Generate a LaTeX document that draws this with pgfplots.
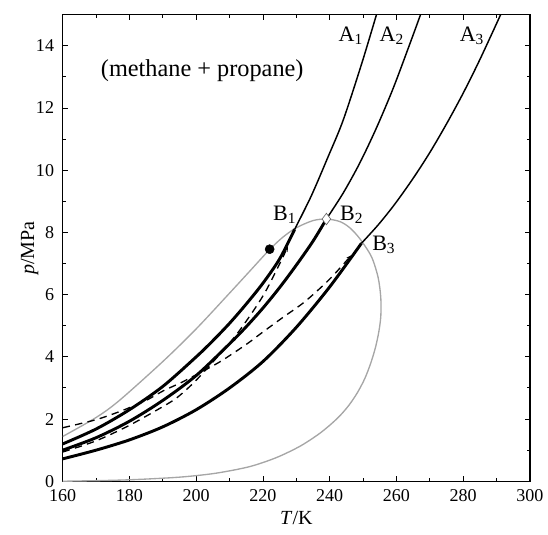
\documentclass[border=0pt]{standalone}
\usepackage{pgfplots}
\pgfplotsset{compat=1.18}
\usepackage{fontspec}
\setmainfont{Liberation Serif}
\usetikzlibrary{arrows.meta}
\begin{document}
\begin{tikzpicture}
\begin{axis}[
  width=350pt, height=349.5pt, scale only axis,
  xmin=160, xmax=300, ymin=0, ymax=15,
  xtick={160,180,...,300}, ytick={0,2,...,14},
  minor x tick num=1, minor y tick num=1,
  tick align=inside, tick pos=both,
  major tick length=4pt, minor tick length=2.5pt,
  axis line style={line width=0.9pt},
  every tick/.style={line width=0.7pt, black},
  tick label style={font=\fontsize{13.5}{15}\selectfont},
  xticklabel style={yshift=-3pt},
  yticklabel style={xshift=-3pt},
  /pgf/number format/assume math mode=true,
  xlabel={\textit{T}/K}, ylabel={\textit{p}/MPa},
  label style={font=\fontsize{15}{16}\selectfont},
  xlabel style={at={(axis description cs:0.5,-0.0794)}, anchor=center},
  ylabel style={at={(axis description cs:-0.0707,0.5)}, anchor=center},
  clip=true,
]
% gray envelope
\addplot[gray!70, line width=1pt, smooth] coordinates {
(160,1.44) (170,2.05) (177,2.6) (190,3.85) (200,4.9) (210,6.05) (216,6.75) (222,7.45)
(226,7.85) (230,8.15) (235,8.38) (239,8.43) (243,8.35) (246,8.15) (249,7.8) (252.5,7.22)
(254.5,6.55) (255.3,5.9) (255.3,5.3) (254.7,4.8) (253.7,4.3) (252.3,3.8) (250.5,3.3)
(248.3,2.85) (245.8,2.45) (243,2.1) (240,1.8) (236.5,1.5) (231,1.12) (224,0.76)
(216,0.47) (206,0.26) (196,0.14) (185,0.07) (175,0.03) (160,0.0)};
% thick lines
\addplot[black, line width=2.2pt, smooth] coordinates {
(160,1.2) (170,1.68) (180,2.3) (190,3.05) (200,4.0) (205,4.52) (210,5.08) (215,5.7) (220,6.37) (225,7.15) (229.5,8.1)};
\addplot[black, line width=2.2pt, smooth] coordinates {
(160,1.0) (170,1.4) (180,1.93) (190,2.6) (200,3.4) (210,4.42) (215,4.97) (220,5.57) (225,6.23) (230,6.95) (235,7.72) (239,8.43)};
\addplot[black, line width=2.2pt, smooth] coordinates {
(160,0.72) (170,1.0) (180,1.33) (190,1.75) (200,2.3) (210,3.0) (220,3.85) (230,4.95) (240,6.25) (249.5,7.65)};
% thin lines
\addplot[black, line width=1.1pt, smooth] coordinates {
(229.5,8.1) (234.5,9.18) (239.5,10.43) (244,11.6) (249.5,13.4) (254,15.0) (254.5,15.2)};
\addplot[black, line width=1.1pt, smooth] coordinates {
(239,8.43) (244,9.26) (249,10.23) (254,11.36) (259,12.63) (264,14.06) (267.2,15.0) (267.5,15.1)};
\addplot[black, line width=1.1pt, smooth] coordinates {
(249.5,7.65) (254.5,8.24) (259.5,8.91) (265,9.74) (270,10.57) (275,11.49) (280,12.48) (285,13.56) (291.2,15.0) (291.5,15.1)};
% dashed lines
\addplot[black, line width=1pt, dash pattern=on 5.5pt off 4pt, smooth, -{Stealth[length=4pt,width=3pt]}] coordinates {
(160,1.72) (170,1.98) (178,2.28) (185,2.6) (190,2.9) (196,3.2) (203.6,3.63) (208,3.9) (215,4.4)
(220,4.8) (226,5.27) (232.5,5.77) (240,6.5) (246.5,7.27)};
\addplot[black, line width=1pt, dash pattern=on 5.5pt off 4pt, smooth, -{Stealth[length=4pt,width=3pt]}] coordinates {
(160,0.94) (170,1.3) (180,1.8) (190,2.4) (194.5,2.71) (200,3.25) (207.6,4.15) (213,4.85) (220.5,6.05) (227.5,7.55)};
% markers
\addplot[only marks, mark=*, mark size=3.4pt, black] coordinates {(222,7.46)};
\addplot[only marks, mark=diamond*, mark size=4.3pt, draw=black!60, fill=white, line width=0.5pt] coordinates {(239,8.43)};
% labels
\node[font=\fontsize{18.2}{19}\selectfont] at (axis cs:201.8,13.2) {(methane + propane)};
\node[font=\fontsize{16.5}{18}\selectfont] at (axis cs:246.3,14.32) {A$_{\mathrm{1}}$};
\node[font=\fontsize{16.5}{18}\selectfont] at (axis cs:258.6,14.32) {A$_{\mathrm{2}}$};
\node[font=\fontsize{16.5}{18}\selectfont] at (axis cs:282.6,14.32) {A$_{\mathrm{3}}$};
\node[font=\fontsize{16.5}{18}\selectfont] at (axis cs:226.5,8.56) {B$_{\mathrm{1}}$};
\node[font=\fontsize{16.5}{18}\selectfont] at (axis cs:246.6,8.56) {B$_{\mathrm{2}}$};
\node[font=\fontsize{16.5}{18}\selectfont] at (axis cs:256.2,7.6) {B$_{\mathrm{3}}$};
\end{axis}
\pgfresetboundingbox
\useasboundingbox (-47pt,-40pt) rectangle (363.5pt,360.5pt);
\end{tikzpicture}
\end{document}
